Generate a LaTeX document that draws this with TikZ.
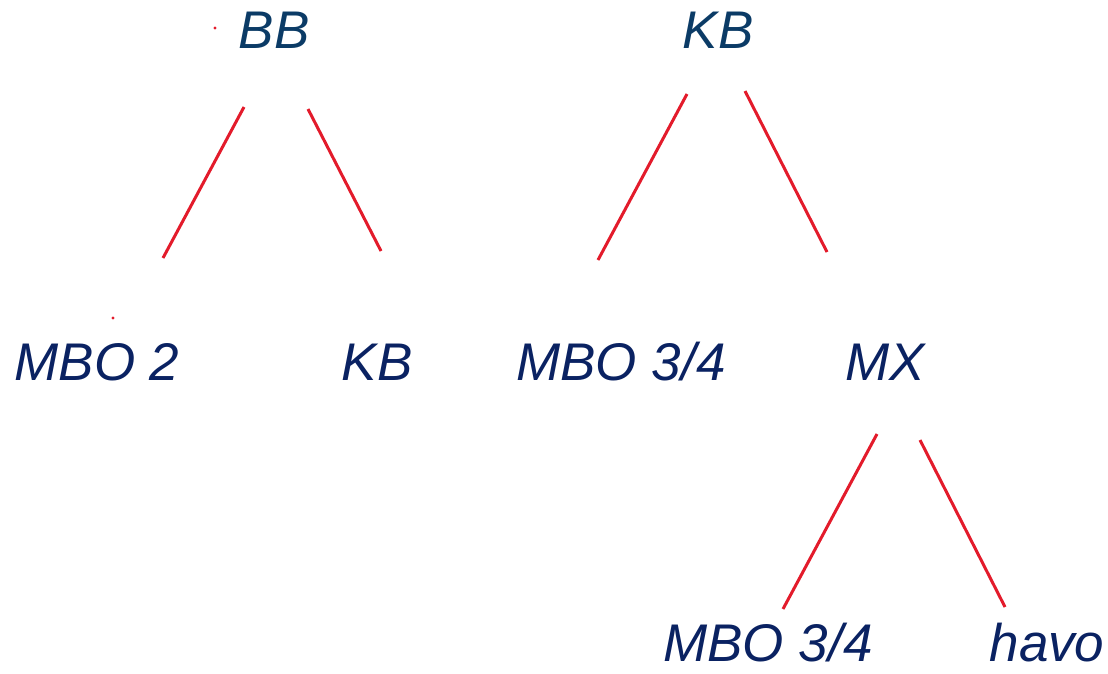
\documentclass[tikz,border=0pt]{standalone}
\usepackage{fontspec}
\setmainfont{Liberation Sans}
\definecolor{topblue}{HTML}{0B3B66}
\definecolor{navy}{HTML}{0A2262}
\definecolor{lred}{HTML}{E31B2B}
\begin{document}
\begin{tikzpicture}[x=1pt,y=-1pt,
  lbl/.style={anchor=base,inner sep=0pt,text=navy,font=\fontsize{53}{60}\selectfont\itshape},
  toplbl/.style={lbl,text=topblue},
  edge/.style={draw=lred,line width=3pt}]
\useasboundingbox (0,0) rectangle (1108,673);
% labels
\node[toplbl] (bb) at (274,48) {BB};
\node[toplbl] (kbtop) at (718,48) {KB};
\node[lbl] (mbo2) at (97,380) {MBO 2};
\node[lbl] (kb) at (377,380) {KB};
\node[lbl] (mbo34a) at (621,380) {MBO 3/4};
\node[lbl] (mx) at (885,380) {MX};
\node[lbl] (mbo34b) at (768,661) {MBO 3/4};
\node[lbl] (havo) at (1047,661) {havo};
% connector ends
\coordinate (bbL) at (244,107); \coordinate (mbo2T) at (163,258);
\coordinate (bbR) at (308,109); \coordinate (kbT) at (381,251);
\coordinate (kbL) at (687,94);  \coordinate (mbo34aT) at (598,260);
\coordinate (kbR) at (745,91);  \coordinate (mxT) at (827,252);
\coordinate (mxL) at (877,434); \coordinate (mbo34bT) at (783,609);
\coordinate (mxR) at (920,440); \coordinate (havoT) at (1005,607);
\draw[edge] (bbL) -- (mbo2T);
\draw[edge] (bbR) -- (kbT);
\draw[edge] (kbL) -- (mbo34aT);
\draw[edge] (kbR) -- (mxT);
\draw[edge] (mxL) -- (mbo34bT);
\draw[edge] (mxR) -- (havoT);
% stray dots
\fill[lred] (215,28) circle (1.6);
\fill[lred] (113,318) circle (1.6);
\end{tikzpicture}
\end{document}
